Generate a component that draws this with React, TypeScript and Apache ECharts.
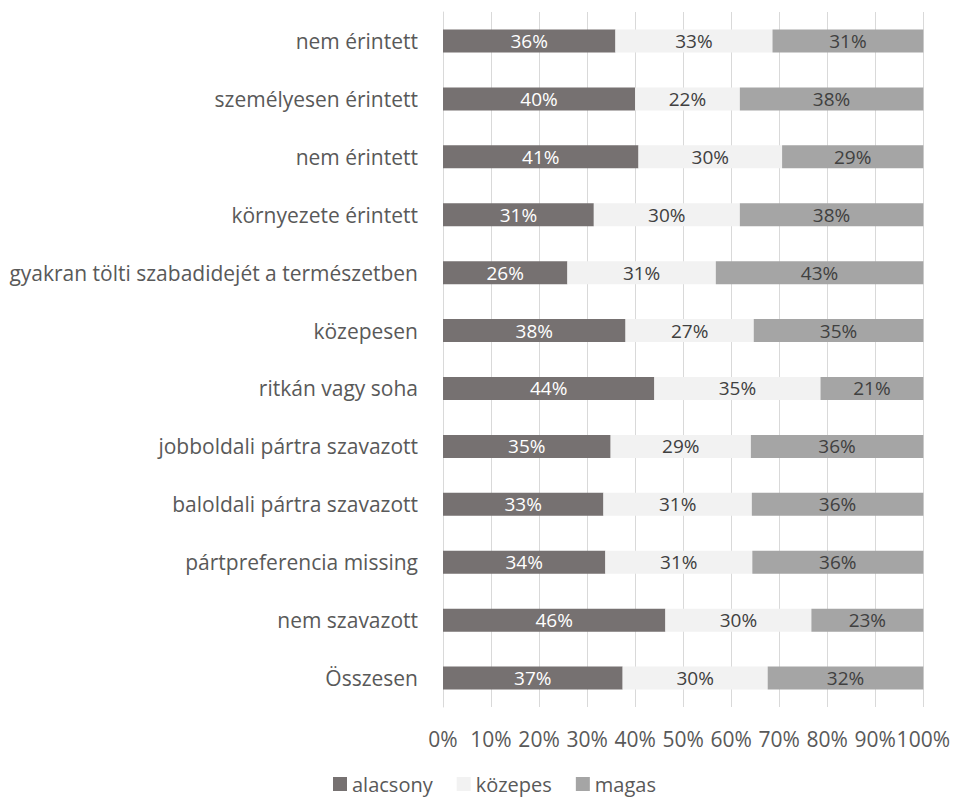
import React, { useEffect, useRef } from "react";
import * as echarts from "echarts";

const categories = [
  "nem érintett",
  "személyesen érintett",
  "nem érintett",
  "környezete érintett",
  "gyakran tölti szabadidejét a természetben",
  "közepesen",
  "ritkán vagy soha",
  "jobboldali pártra szavazott",
  "baloldali pártra szavazott",
  "pártpreferencia missing",
  "nem szavazott",
  "Összesen",
];

const alacsony = [35.9, 40.0, 40.7, 31.4, 25.9, 38.0, 44.0, 34.9, 33.4, 33.8, 46.3, 37.4];
const kozepes = [32.7, 21.8, 29.9, 30.4, 30.9, 26.7, 34.6, 29.2, 30.9, 30.6, 30.4, 30.2];
const magas = [31.4, 38.2, 29.4, 38.2, 43.2, 35.3, 21.4, 35.9, 35.7, 35.6, 23.3, 32.4];

const seriesNames = ["alacsony", "közepes", "magas"];
const xTicks = ["0%", "10%", "20%", "30%", "40%", "50%", "60%", "70%", "80%", "90%", "100%"];

const FONT = "Open Sans";

export default function App() {
  const ref = useRef<HTMLDivElement>(null);
  useEffect(() => {
    if (!ref.current) return;
    const chart = echarts.init(ref.current, null, { renderer: "svg" });
    const cats = [...categories].reverse();
    const rev = (a: number[]) => [...a].reverse();
    const colors = ["#767171", "#F2F2F2", "#A5A5A5"];
    const labelColors = ["#FFFFFF", "#404040", "#404040"];
    const datas = [alacsony, kozepes, magas];
    chart.setOption({
      animation: false,
      textStyle: { fontFamily: FONT },
      grid: { left: 443, right: 28, top: 12, bottom: 96, containLabel: false },
      legend: {
        data: seriesNames,
        bottom: 4,
        left: 328,
        itemWidth: 14,
        itemHeight: 14,
        itemGap: 24,
        icon: "rect",
        textStyle: { fontFamily: FONT, fontSize: 20, color: "#595959" },
      },
      xAxis: {
        type: "value",
        min: 0,
        max: 100,
        interval: 10,
        axisLine: { show: false },
        axisTick: { show: false },
        splitLine: { show: true, lineStyle: { color: "#D9D9D9", width: 1 } },
        axisLabel: {
          fontFamily: FONT,
          fontSize: 21,
          color: "#595959",
          margin: 21,
          formatter: (v: number) => xTicks[Math.round(v / 10)] ?? "",
        },
      },
      yAxis: {
        type: "category",
        data: cats,
        axisLine: { show: true, lineStyle: { color: "#D9D9D9", width: 1 } },
        axisTick: { show: false },
        axisLabel: { fontFamily: FONT, fontSize: 21, color: "#595959", margin: 25 },
      },
      series: seriesNames.map((name, i) => ({
        name,
        type: "bar",
        stack: "total",
        barWidth: 23,
        itemStyle: { color: colors[i] },
        label: {
          show: true,
          position: "inside",
          fontFamily: FONT,
          fontSize: 19,
          color: labelColors[i],
          formatter: (p: any) => Math.round(p.value) + "%",
        },
        data: rev(datas[i]),
      })),
    });
    return () => chart.dispose();
  }, []);
  return (
    <div
      ref={ref}
      style={{ position: "fixed", left: 0, top: 0, width: 953, height: 803, background: "#fff" }}
    />
  );
}
